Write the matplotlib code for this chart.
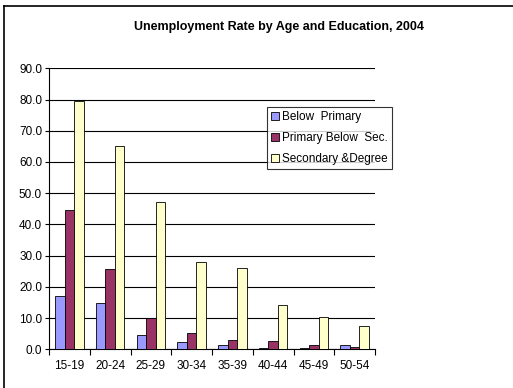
import numpy as np
import matplotlib.pyplot as plt
from matplotlib.lines import Line2D

plt.rcParams['font.family'] = ['Liberation Sans', 'DejaVu Sans']

age_groups = ["15-19", "20-24", "25-29", "30-34", "35-39", "40-44", "45-49", "50-54"]
below_primary = [17.2, 14.7, 4.6, 2.2, 1.3, 0.5, 0.5, 1.3]
primary_below_sec = [44.5, 25.6, 10.1, 5.2, 2.9, 2.6, 1.5, 0.7]
secondary_degree = [79.4, 65.2, 47.1, 27.9, 26.1, 14.1, 10.4, 7.6]

series_names = ["Below  Primary", "Primary Below  Sec.", "Secondary &Degree"]
colors = ["#9999FF", "#993366", "#FFFFCC"]

fig = plt.figure(figsize=(5.13, 3.88), dpi=100)
ax = fig.add_axes([49/513, 1-349.3/388, (375-49)/513, (349.3-68.3)/388])

x = np.arange(len(age_groups))
w = 0.233
for i, (vals, name, c) in enumerate(zip([below_primary, primary_below_sec, secondary_degree], series_names, colors)):
    ax.bar(x + (i-1)*w, vals, w, color=c, edgecolor="black", linewidth=0.6, label=name, zorder=3)

ax.set_xlim(-0.5, len(age_groups)-0.5)
ax.set_ylim(0, 90)
ax.set_yticks(np.arange(0, 91, 10))
ax.set_yticklabels([f"{v:.1f}" for v in np.arange(0, 91, 10)], fontsize=8.5)
ax.yaxis.grid(True, color="black", linewidth=0.8, zorder=0)
ax.set_axisbelow(True)

# category labels at centers, tick marks between categories
ax.set_xticks(x)
ax.set_xticklabels(age_groups, fontsize=8.5)
ax.tick_params(axis='x', length=0, pad=8)
ax.set_xticks(np.arange(-0.5, len(age_groups), 1), minor=True)
ax.tick_params(axis='x', which='minor', length=4, width=0.8, direction='out')
ax.tick_params(axis='y', length=3, width=0.8, direction='out', pad=2)

for s in ['top', 'right']:
    ax.spines[s].set_visible(False)
ax.spines['left'].set_linewidth(0.8)
ax.spines['bottom'].set_linewidth(0.8)

leg = ax.legend(loc='upper left', bbox_to_anchor=((267-49)/(375-49), (349.3-107)/(349.3-68.3)),
                fontsize=8.5, frameon=True, fancybox=False, edgecolor="black",
                handlelength=0.7, handleheight=0.7, handletextpad=0.25,
                borderpad=0.35, labelspacing=0.75, borderaxespad=0)
leg.get_frame().set_linewidth(0.8)
leg.set_zorder(5)

fig.text(279/513, 1-27/388, "Unemployment Rate by Age and Education, 2004",
         ha='center', va='center', fontsize=9, fontweight='bold')

# outer chart border (cropped at right and bottom)
fig.add_artist(Line2D([3.5/513, 1], [1-6/388, 1-6/388], color="black", linewidth=1.2))
fig.add_artist(Line2D([3.5/513, 3.5/513], [0, 1-6/388], color="black", linewidth=1.2))

fig.savefig("out.png", dpi=100)
